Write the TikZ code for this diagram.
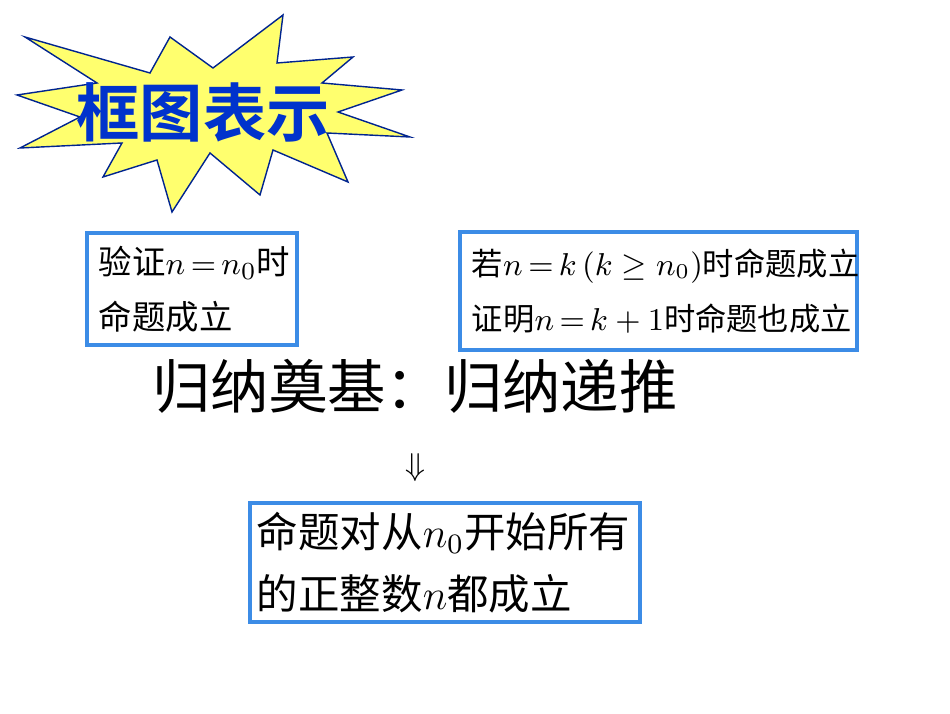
\documentclass[tikz,border=0pt]{standalone}
\usepackage{fontspec}
\usepackage{xcolor}
\usepackage{tikz}
\newfontfamily\cjk[BoldFont={Noto Sans CJK SC Bold}]{Noto Sans CJK SC}
\definecolor{boxblue}{RGB}{60,140,230}
\definecolor{titleblue}{RGB}{0,51,204}
\definecolor{staryellow}{RGB}{255,255,110}
\tikzset{
  stepbox/.style={draw=boxblue, line width=1pt, rectangle, anchor=center},
  steptext/.style={align=left, anchor=west, inner sep=0pt},
}

\begin{document}
\begin{tikzpicture}
\useasboundingbox (0,0) rectangle (9.5,7.13);
% starburst
\draw[fill=staryellow, draw=titleblue!70!black, line width=0.4pt]
(0.25,6.76) -- (1.50,6.40) -- (1.70,6.76) -- (2.13,6.45) -- (2.83,6.98) --
(2.77,6.50) -- (3.53,6.56) -- (3.22,6.30) -- (4.02,6.23) -- (3.38,6.01) --
(4.10,5.76) -- (3.27,5.80) -- (3.48,5.31) -- (2.73,5.63) -- (2.60,5.18) --
(2.10,5.60) -- (1.72,5.01) -- (1.57,5.53) -- (1.03,5.36) -- (1.22,5.70) --
(0.20,5.65) -- (0.80,5.96) -- (0.17,6.18) -- (0.97,6.30) -- cycle;
\node[titleblue, font=\cjk\bfseries\fontsize{18}{20}\selectfont] (title) at (2.03,6.01) {框图表示};
% boxes
\node[stepbox, minimum width=2.10cm, minimum height=1.12cm] (base) at (1.92,4.24) {};
\node[steptext, font=\cjk\fontsize{9.5}{15.6}\selectfont] (basetext) at ([xshift=0.13cm]base.west)
  {验证$n\,{=}\,n_0$时\\命题成立};
\node[stepbox, minimum width=3.97cm, minimum height=1.18cm] (induct) at (6.585,4.22) {};
\node[steptext, font=\cjk\fontsize{8.9}{15.6}\selectfont] (inducttext) at ([xshift=0.13cm]induct.west)
  {若$n\,{=}\,k\,(k\geq n_0)$时命题成立\\证明$n\,{=}\,k+1$时命题也成立};
\node[font=\cjk\fontsize{16.6}{18}\selectfont] (steps) at (4.15,3.27) {归纳奠基：归纳递推};
\node[font=\fontsize{9}{10}\selectfont] (arrow) at (4.15,2.45) {$\Downarrow$};
\node[stepbox, minimum width=3.90cm, minimum height=1.19cm] (result) at (4.45,1.505) {};
\node[steptext, font=\cjk\fontsize{11.8}{17.8}\selectfont] (resulttext) at ([xshift=0.08cm]result.west)
  {命题对从$n_0$开始所有\\的正整数$n$都成立};
\end{tikzpicture}
\end{document}
